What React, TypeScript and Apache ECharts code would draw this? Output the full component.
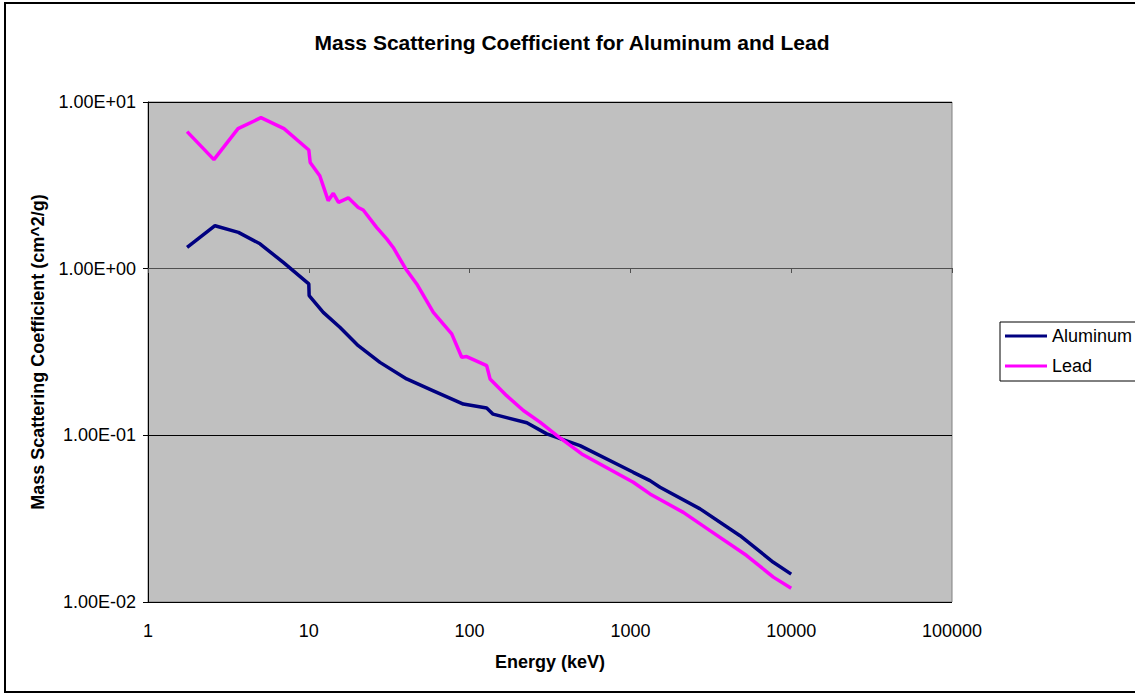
import React, { useEffect, useRef } from "react";
import * as echarts from "echarts";

const titleText = "Mass Scattering Coefficient for Aluminum and Lead";
const xAxisName = "Energy (keV)";
const yAxisName = "Mass Scattering Coefficient (cm^2/g)";
const seriesNames = ["Aluminum", "Lead"];

const aluminumEnergy = [1.75, 2.61, 3.65, 4.97, 6.94, 10.0, 10.05, 12.3, 15.6, 20.3, 27.7, 40.6, 59.5, 91.4, 127.7, 140, 227, 302, 486, 1042, 1324, 1528, 2711, 4808, 7743, 10000];
const aluminumCoeff = [1.34, 1.81, 1.65, 1.41, 1.09, 0.81, 0.69, 0.547, 0.445, 0.345, 0.274, 0.218, 0.185, 0.154, 0.146, 0.134, 0.119, 0.102, 0.0867, 0.06, 0.0535, 0.0488, 0.0362, 0.025, 0.0173, 0.0147];

const leadEnergy = [1.75, 2.57, 3.63, 5.04, 7.01, 10.0, 10.2, 11.7, 13.2, 14.2, 15.3, 17.6, 20.3, 21.8, 26.4, 30.5, 33.5, 40.0, 46.9, 59.5, 77.4, 89.3, 95.9, 127.7, 134, 170, 216, 274, 348, 498, 1042, 1324, 2133, 3126, 5285, 7743, 10000];
const leadCoeff = [6.64, 4.51, 6.92, 8.05, 6.92, 5.15, 4.34, 3.61, 2.56, 2.83, 2.5, 2.66, 2.33, 2.25, 1.77, 1.51, 1.34, 1.0, 0.81, 0.547, 0.406, 0.294, 0.297, 0.262, 0.218, 0.173, 0.141, 0.12, 0.1, 0.0773, 0.0523, 0.0445, 0.0345, 0.0268, 0.019, 0.0141, 0.0121];

const xMin = 1;
const xMax = 100000;
const yMin = 0.01;
const yMax = 10;

const FONT = "'Liberation Sans', Arial, sans-serif";

function sciLabel(v: number): string {
  const e = Math.round(Math.log10(v));
  const m = v / Math.pow(10, e);
  const sign = e < 0 ? "-" : "+";
  const ae = Math.abs(e);
  return m.toFixed(2) + "E" + sign + (ae < 10 ? "0" + ae : String(ae));
}

export default function App() {
  const ref = useRef<HTMLDivElement>(null);
  useEffect(() => {
    if (!ref.current) return;
    const chart = echarts.init(ref.current, undefined, { renderer: "svg" });
    const al = aluminumEnergy.map((x, i) => [x, aluminumCoeff[i]]);
    const pb = leadEnergy.map((x, i) => [x, leadCoeff[i]]);
    chart.setOption({
      animation: false,
      backgroundColor: "#ffffff",
      textStyle: { fontFamily: FONT },
      title: {
        text: titleText,
        left: 567,
        textAlign: "center",
        top: 27,
        textStyle: { fontFamily: FONT, fontSize: 21, fontWeight: "bold", color: "#000" },
      },
      graphic: [
        {
          type: "rect",
          shape: { x: 5, y: 3, width: 1140, height: 689 },
          style: { fill: "none", stroke: "#000", lineWidth: 2 },
          silent: true,
        },
      ],
      legend: {
        orient: "vertical",
        left: 1000,
        top: 322,
        data: seriesNames,
        icon: "rect",
        itemWidth: 42,
        itemHeight: 3,
        itemGap: 10,
        padding: [4, 30, 5, 5],
        borderColor: "#000",
        borderWidth: 1,
        backgroundColor: "#fff",
        borderRadius: 0,
        textStyle: { fontFamily: FONT, fontSize: 18, color: "#000", lineHeight: 20 },
      },
      grid: {
        left: 148,
        top: 102,
        right: 183,
        bottom: 92,
        show: true,
        backgroundColor: "#C0C0C0",
        borderColor: "#808080",
        borderWidth: 1,
      },
      xAxis: [
        {
          type: "log",
          logBase: 10,
          min: xMin,
          max: xMax,
          name: xAxisName,
          nameLocation: "middle",
          nameGap: 51,
          nameTextStyle: { fontFamily: FONT, fontSize: 18, fontWeight: "bold", color: "#000" },
          axisLine: { show: false },
          axisTick: { show: false },
          splitLine: { show: false },
          axisLabel: {
            fontFamily: FONT,
            fontSize: 18,
            color: "#000",
            margin: 20,
            formatter: (v: number) => String(Math.round(v)),
          },
        },
        {
          type: "log",
          logBase: 10,
          min: xMin,
          max: xMax,
          position: "bottom",
          offset: -334,
          axisLine: { show: true, lineStyle: { color: "#505050", width: 1 } },
          axisTick: { show: true, length: 5, lineStyle: { color: "#505050" } },
          axisLabel: { show: false },
          splitLine: { show: false },
        },
      ],
      yAxis: {
        type: "log",
        logBase: 10,
        min: yMin,
        max: yMax,
        name: yAxisName,
        nameLocation: "middle",
        nameRotate: 90,
        nameGap: 101,
        nameTextStyle: { fontFamily: FONT, fontSize: 18, fontWeight: "bold", color: "#000" },
        axisLine: { show: true, lineStyle: { color: "#000", width: 1 } },
        axisTick: { show: true, length: 5, lineStyle: { color: "#000" } },
        splitLine: { show: true, lineStyle: { color: "#000", width: 1 } },
        axisLabel: {
          fontFamily: FONT,
          fontSize: 18,
          color: "#000",
          margin: 12,
          formatter: (v: number) => sciLabel(v),
        },
      },
      series: [
        {
          name: seriesNames[0],
          type: "line",
          data: al,
          xAxisIndex: 0,
          showSymbol: false,
          symbol: "none",
          lineStyle: { color: "#000080", width: 3.5 },
          itemStyle: { color: "#000080" },
        },
        {
          name: seriesNames[1],
          type: "line",
          data: pb,
          xAxisIndex: 0,
          showSymbol: false,
          symbol: "none",
          lineStyle: { color: "#FF00FF", width: 3.5 },
          itemStyle: { color: "#FF00FF" },
        },
      ],
    });
    return () => chart.dispose();
  }, []);
  return (
    <div
      ref={ref}
      style={{ position: "fixed", left: 0, top: 0, width: 1135, height: 694 }}
    />
  );
}
